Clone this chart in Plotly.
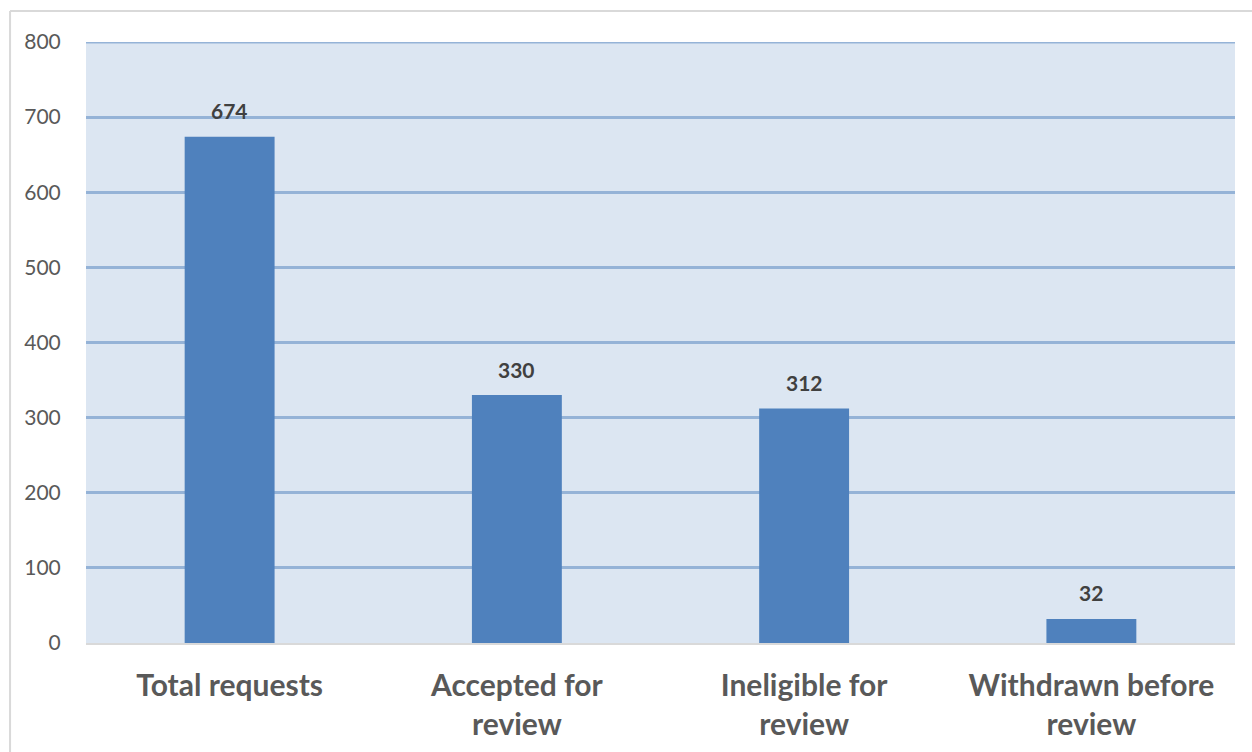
import plotly.graph_objects as go

categories = ["Total requests", "Accepted for<br>review", "Ineligible for<br>review", "Withdrawn before<br>review"]
values = [674, 330, 312, 32]
y_ticks = [0, 100, 200, 300, 400, 500, 600, 700, 800]

FONT = "Lato, 'Open Sans', sans-serif"
GRID = "#95B3D7"

fig = go.Figure()
fig.add_trace(go.Bar(
    x=categories, y=values,
    marker=dict(color="#4F81BD", line=dict(width=0)),
    hoverinfo="skip",
))

for c, v in zip(categories, values):
    fig.add_annotation(x=c, y=v, text=f"<b>{v}</b>", showarrow=False, yshift=26,
                       font=dict(family=FONT, size=21, color="#404040"))

# top gridline (Plotly omits the gridline at the range edge)
fig.add_shape(type="line", xref="paper", yref="y", x0=0, x1=1, y0=y_ticks[-1], y1=y_ticks[-1],
              line=dict(color=GRID, width=3), layer="below")

fig.add_shape(type="line", xref="paper", yref="paper", x0=-0.0661, x1=1.1, y0=1.0516, y1=1.0516,
              line=dict(color="#D9D9D9", width=2))
fig.add_shape(type="line", xref="paper", yref="paper", x0=-0.0661, x1=-0.0661, y0=1.0516, y1=-0.3,
              line=dict(color="#D9D9D9", width=2))

fig.update_layout(
    width=1252, height=752,
    margin=dict(l=86, r=17, t=42, b=109),
    paper_bgcolor="white",
    plot_bgcolor="#DCE6F2",
    bargap=0.687,
    showlegend=False,
    font=dict(family=FONT),
    xaxis=dict(
        showgrid=False, showline=True, linecolor="#D9D9D9", linewidth=2,
        tickfont=dict(family=FONT, size=30, color="#595959", weight="bold"),
        ticks="outside", ticklen=15, tickcolor="rgba(0,0,0,0)",
    ),
    yaxis=dict(
        range=[0, 800], tickvals=y_ticks,
        showgrid=True, gridcolor=GRID, gridwidth=3,
        zeroline=False, showline=False,
        tickfont=dict(family=FONT, size=21, color="#595959"),
        ticks="outside", ticklen=20, tickcolor="rgba(0,0,0,0)",
    ),
)

fig.write_html("out.html")
